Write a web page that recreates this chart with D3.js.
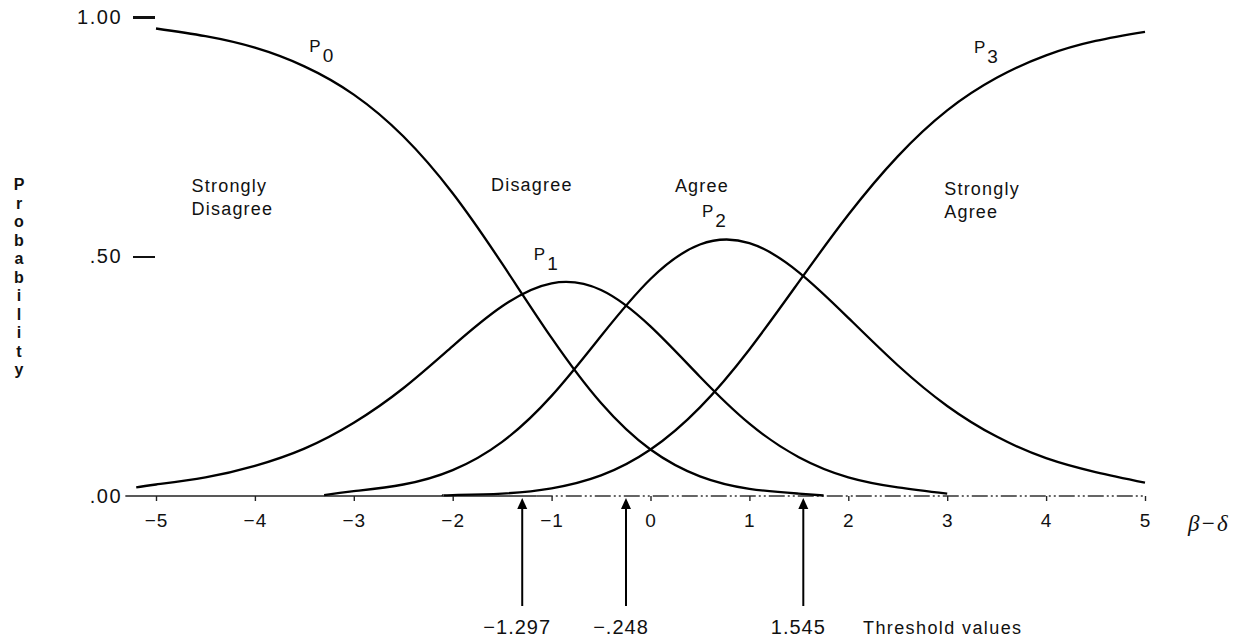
<!DOCTYPE html>
<html>
<head>
<meta charset="utf-8">
<script src="https://cdn.jsdelivr.net/npm/d3@7"></script>
<style>
  html, body { margin: 0; padding: 0; background: #fff; }
  svg { display: block; font-family: "Liberation Sans", Arial, Helvetica, sans-serif; }
</style>
</head>
<body>
<svg id="chart" width="1247" height="640"></svg>
<script>
// Category probability curves of a four-category rating scale,
// plotted against ability minus item location (beta - delta).

// P0: Strongly Disagree
const thetaP0 = [-5, -4.5, -4, -3.5, -3, -2.5, -2, -1.5, -1, -0.5, 0, 0.5, 1, 1.5, 1.75];
const probP0  = [0.976, 0.960, 0.936, 0.897, 0.838, 0.751, 0.632, 0.485, 0.330, 0.194, 0.097, 0.041, 0.015, 0.005, 0.001];

// P1: Disagree
const thetaP1 = [-5.2, -5, -4.5, -4, -3.5, -3, -2.5, -2, -1.5, -1, -0.5, 0, 0.5, 1, 1.5, 2, 2.5, 3];
const probP1  = [0.018, 0.024, 0.039, 0.063, 0.099, 0.153, 0.225, 0.313, 0.396, 0.444, 0.430, 0.354, 0.249, 0.151, 0.081, 0.039, 0.018, 0.005];

// P2: Agree
const thetaP2 = [-3.3, -3, -2.5, -2, -1.5, -1, -0.5, 0, 0.5, 1, 1.5, 2, 2.5, 3, 3.5, 4, 4.5, 5];
const probP2  = [0.002, 0.010, 0.024, 0.054, 0.113, 0.209, 0.334, 0.453, 0.525, 0.528, 0.467, 0.372, 0.273, 0.188, 0.124, 0.079, 0.050, 0.028];

// P3: Strongly Agree
const thetaP3 = [-2.1, -2, -1.5, -1, -0.5, 0, 0.5, 1, 1.5, 2, 2.5, 3, 3.5, 4, 4.5, 5];
const probP3  = [0.001, 0.002, 0.005, 0.016, 0.043, 0.097, 0.185, 0.306, 0.447, 0.587, 0.709, 0.805, 0.873, 0.920, 0.950, 0.969];

const xTicks = [-5, -4, -3, -2, -1, 0, 1, 2, 3, 4, 5];
const yTicks = [0, 0.5, 1];
const yTickLabels = [".00", ".50", "1.00"];

const thresholds = [-1.297, -0.248, 1.545];
const thresholdLabels = ["\u22121.297", "\u2212.248", "1.545"];

const curveSubscripts = ["0", "1", "2", "3"];
const categoryLines = [["Strongly", "Disagree"], ["Disagree"], ["Agree"], ["Strongly", "Agree"]];
const yTitle = "Probability";

// ---------------------------------------------------------------
const svg = d3.select("#chart");

const x = d3.scaleLinear().domain([-5, 5]).range([156, 1145]);
const y = d3.scaleLinear().domain([0, 1]).range([496, 17]);

// baseline: solid on the left, broken print-style on the right
svg.append("line")
  .attr("x1", x(-5.31)).attr("x2", x(-1.15))
  .attr("y1", y(0)).attr("y2", y(0))
  .attr("stroke", "#222").attr("stroke-width", 1.4);
svg.append("line")
  .attr("x1", x(-1.15)).attr("x2", x(5))
  .attr("y1", y(0)).attr("y2", y(0))
  .attr("stroke", "#333").attr("stroke-width", 1.3)
  .attr("stroke-dasharray", "16,3,2,3,2,3");

// x axis ticks and labels
const xAxis = d3.axisBottom(x)
  .tickValues(xTicks)
  .tickSize(5)
  .tickPadding(13)
  .tickFormat(d3.format("d"));
const gx = svg.append("g").attr("transform", `translate(0,${y(0)})`).call(xAxis);
gx.select(".domain").remove();
gx.selectAll(".tick line").attr("stroke", "#222").attr("stroke-width", 1.4);
gx.selectAll(".tick text")
  .attr("fill", "#111")
  .style("font-size", "19px")
  .style("letter-spacing", "1px");

// y axis: detached dashes with labels
const yAxis = d3.axisLeft(y)
  .tickValues(yTicks)
  .tickSize(22)
  .tickPadding(11)
  .tickFormat((d, i) => yTickLabels[i]);
const gy = svg.append("g").attr("transform", `translate(${x(-5.01)},0)`).call(yAxis);
gy.select(".domain").remove();
gy.selectAll(".tick line")
  .attr("stroke", "#111")
  .attr("stroke-width", d => d === 1 ? 3 : 2)
  .attr("opacity", d => d === 0 ? 0 : 1);
gy.selectAll(".tick text")
  .attr("fill", "#111")
  .style("font-size", "20px")
  .style("letter-spacing", "1.5px");

// vertical stacked axis title
svg.append("g").selectAll("text")
  .data(yTitle.split(""))
  .join("text")
  .attr("x", 19)
  .attr("y", (d, i) => 190 + i * 18.5)
  .attr("text-anchor", "middle")
  .attr("fill", "#111")
  .style("font-size", "16px")
  .style("font-weight", "bold")
  .text(d => d);

// category probability curves
const line = d3.line()
  .x(d => x(d[0]))
  .y(d => y(d[1]))
  .curve(d3.curveNatural);

const series = [
  d3.zip(thetaP0, probP0),
  d3.zip(thetaP1, probP1),
  d3.zip(thetaP2, probP2),
  d3.zip(thetaP3, probP3)
];

svg.append("g").selectAll("path")
  .data(series)
  .join("path")
  .attr("d", line)
  .attr("fill", "none")
  .attr("stroke", "#000")
  .attr("stroke-width", 2.3)
  .attr("stroke-linejoin", "round")
  .attr("stroke-linecap", "butt");

// curve labels P0..P3
const curveLabelAt = [[-3.45, 0.927], [-1.18, 0.493], [0.52, 0.582], [3.27, 0.925]];
const pLabels = svg.append("g").selectAll("text")
  .data(curveSubscripts)
  .join("text")
  .attr("x", (d, i) => x(curveLabelAt[i][0]))
  .attr("y", (d, i) => y(curveLabelAt[i][1]))
  .attr("fill", "#111")
  .style("font-size", "17px");
pLabels.append("tspan").text("P");
pLabels.append("tspan")
  .attr("dx", 2)
  .attr("dy", 10)
  .style("font-size", "19px")
  .text(d => d);

// response category names
const catAnchor = [
  { t: -4.64, v: 0.635, anchor: "start" },
  { t: -1.20, v: 0.637, anchor: "middle" },
  { t: 0.52,  v: 0.635, anchor: "middle" },
  { t: 2.97,  v: 0.628, anchor: "start" }
];
svg.append("g").selectAll("text")
  .data(categoryLines)
  .join("text")
  .attr("x", (d, i) => x(catAnchor[i].t))
  .attr("y", (d, i) => y(catAnchor[i].v))
  .attr("text-anchor", (d, i) => catAnchor[i].anchor)
  .attr("fill", "#111")
  .style("font-size", "18px")
  .style("letter-spacing", "1.2px")
  .each(function(lines, i) {
    d3.select(this).selectAll("tspan")
      .data(lines)
      .join("tspan")
      .attr("x", x(catAnchor[i].t))
      .attr("dy", (d, j) => j === 0 ? 0 : 23)
      .text(d => d);
  });

// threshold arrows
const arrows = svg.append("g").selectAll("g")
  .data(thresholds)
  .join("g");
arrows.append("line")
  .attr("x1", d => x(d)).attr("x2", d => x(d))
  .attr("y1", 606).attr("y2", y(0) + 10)
  .attr("stroke", "#000").attr("stroke-width", 2);
arrows.append("path")
  .attr("d", d => {
    const cx = x(d), tip = y(0) + 2;
    return `M${cx},${tip}L${cx - 5},${tip + 11}L${cx + 5},${tip + 11}Z`;
  })
  .attr("fill", "#000");
arrows.append("text")
  .attr("x", d => x(d) - 5)
  .attr("y", 634)
  .attr("text-anchor", "middle")
  .attr("fill", "#111")
  .style("font-size", "20px")
  .style("letter-spacing", "1px")
  .text((d, i) => thresholdLabels[i]);

svg.append("text")
  .attr("x", 863)
  .attr("y", 634)
  .attr("fill", "#111")
  .style("font-size", "18px")
  .style("letter-spacing", "1.4px")
  .text("Threshold values");

// x axis variable name
svg.append("text")
  .attr("x", 1188)
  .attr("y", 531)
  .attr("fill", "#111")
  .style("font-family", "'Liberation Serif', 'DejaVu Serif', serif")
  .style("font-style", "italic")
  .style("font-size", "23px")
  .style("letter-spacing", "1px")
  .text("\u03B2\u2212\u03B4");
</script>
</body>
</html>
